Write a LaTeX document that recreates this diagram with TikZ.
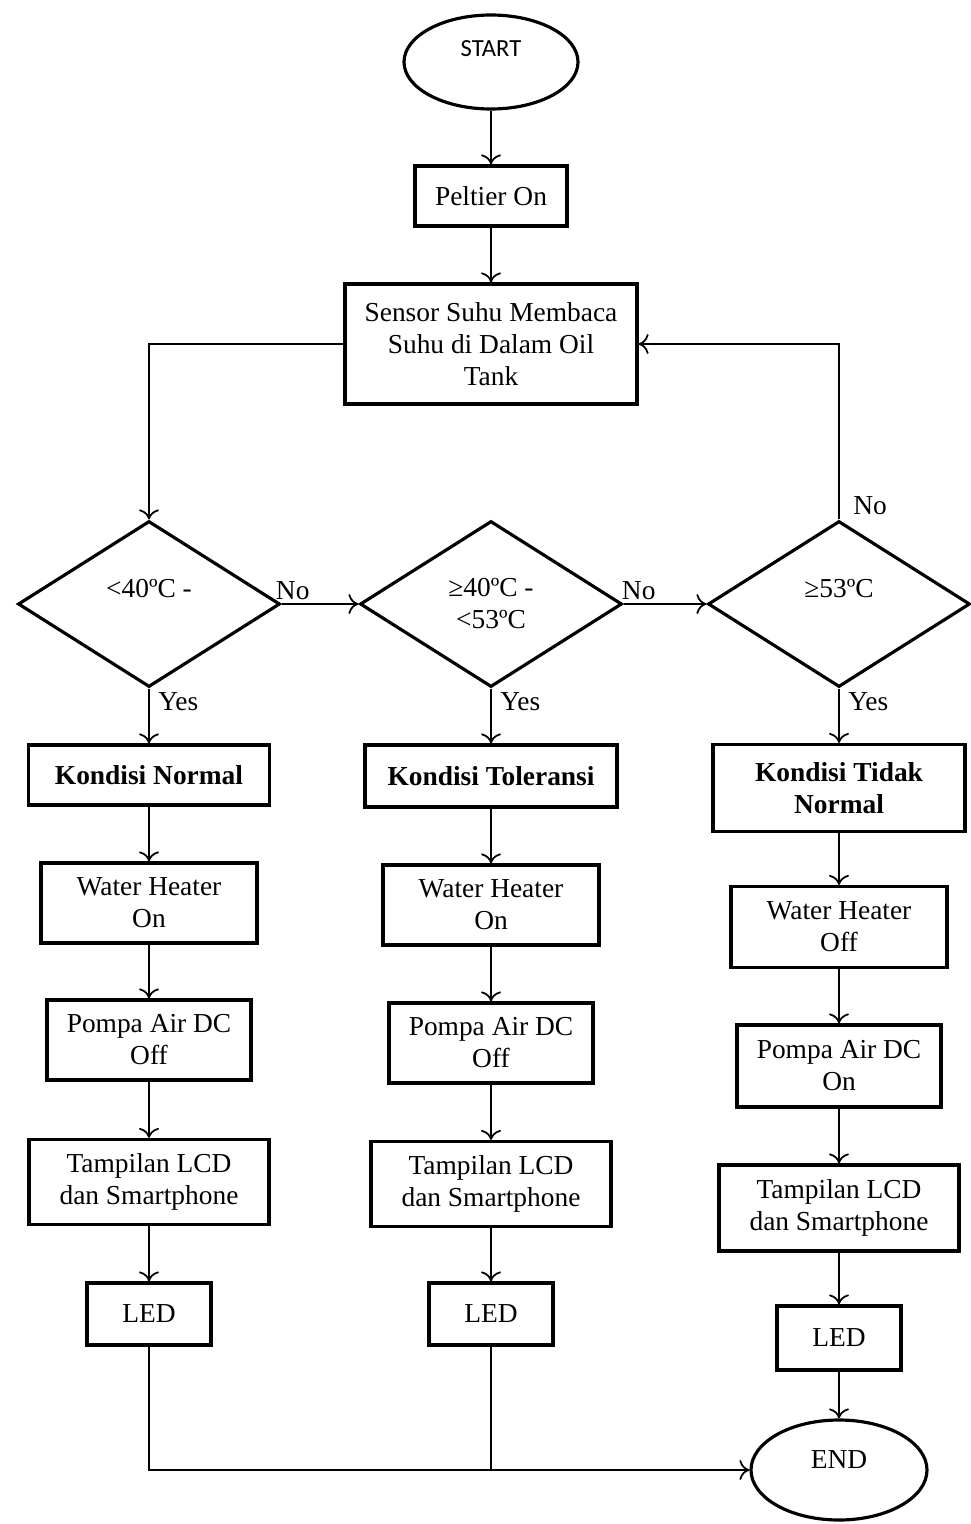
\documentclass[tikz,border=0pt]{standalone}
\usepackage{fontspec}
\setmainfont{Liberation Serif}
\setsansfont{Carlito}
\usetikzlibrary{arrows.meta,shapes.geometric}
\tikzset{
	box/.style 2 args={draw, line width=0.9pt, align=center, inner sep=1pt, minimum width=#1cm, minimum height=#2cm},
	cond/.style={draw, diamond, aspect=1.6, line width=0.9pt, align=center, inner sep=1pt, minimum width=2.62cm, minimum height=1.66cm},
	term/.style={draw, ellipse, line width=0.9pt, inner sep=0pt},
	link/.style={line width=0.5pt},
	arr/.style={link, -{To[length=1mm,width=2mm]}},
	tag/.style={inner sep=1pt}
}

\begin{document}
\begin{tikzpicture}[font=\fontsize{7.8}{9.1}\selectfont]
			%%%%% START %%%%%
			\useasboundingbox (0,0) rectangle (9.71,-15.24);
			
			\node[term, minimum width=1.74cm, minimum height=0.94cm, text depth=0.26cm, font=\sffamily\fontsize{7}{8}\selectfont] (start) at (4.91,-0.62) {START};
			\node[box={1.52}{0.60}] (peltier) at (4.91,-1.96) {Peltier On};
			\node[box={2.92}{1.20}] (sensor) at (4.91,-3.44) {Sensor Suhu Membaca\\Suhu di Dalam Oil\\Tank};
			
			\node[cond] (d1) at (1.49,-6.04) {<40ºC -\\\mbox{}};
			\node[cond] (d2) at (4.91,-6.04) {≥40ºC -\\<53ºC};
			\node[cond] (d3) at (8.39,-6.04) {≥53ºC\\\mbox{}};
			
			\node[box={2.41}{0.60}] (kn1) at (1.49,-7.75) {\textbf{Kondisi Normal}};
			\node[box={2.16}{0.80}] (wh1) at (1.49,-9.03) {Water Heater\\On};
			\node[box={2.04}{0.80}] (pa1) at (1.49,-10.40) {Pompa Air DC\\Off};
			\node[box={2.40}{0.85}] (tl1) at (1.49,-11.82) {Tampilan LCD\\dan Smartphone};
			\node[box={1.24}{0.62}] (led1) at (1.49,-13.14) {LED};
			
			\node[box={2.52}{0.62}] (kn2) at (4.91,-7.76) {\textbf{Kondisi Toleransi}};
			\node[box={2.16}{0.80}] (wh2) at (4.91,-9.05) {Water Heater\\On};
			\node[box={2.04}{0.80}] (pa2) at (4.91,-10.43) {Pompa Air DC\\Off};
			\node[box={2.40}{0.85}] (tl2) at (4.91,-11.84) {Tampilan LCD\\dan Smartphone};
			\node[box={1.24}{0.62}] (led2) at (4.91,-13.14) {LED};
			
			\node[box={2.52}{0.87}] (kn3) at (8.39,-7.88) {\textbf{Kondisi Tidak}\\\textbf{Normal}};
			\node[box={2.16}{0.81}] (wh3) at (8.39,-9.27) {Water Heater\\Off};
			\node[box={2.04}{0.82}] (pa3) at (8.39,-10.66) {Pompa Air DC\\On};
			\node[box={2.40}{0.86}] (tl3) at (8.39,-12.08) {Tampilan LCD\\dan Smartphone};
			\node[box={1.24}{0.64}] (led3) at (8.39,-13.38) {LED};
			
			\node[term, minimum width=1.76cm, minimum height=1.00cm, text depth=0.2cm] (end) at (8.39,-14.70) {END};
			
			% top
			\draw[arr] (start) -- (peltier);
			\draw[arr] (peltier) -- (sensor);
			\draw[arr] (sensor.west) -| (d1.north);
			
			% decisions
			\draw[arr] (d1.east) -- (d2.west) node[tag, pos=0, anchor=south west, xshift=-1mm] (no1) {No};
			\draw[arr] (d2.east) -- (d3.west) node[tag, pos=0, anchor=south west, xshift=-0.6mm] (no2) {No};
			\draw[arr] (d3.north) |- (sensor.east) node[tag, pos=0, anchor=south west, xshift=1mm] (no3) {No};
			\draw[arr] (d1.south) -- (kn1) node[tag, pos=0, anchor=north west, xshift=0.5mm] (yes1) {Yes};
			\draw[arr] (d2.south) -- (kn2) node[tag, pos=0, anchor=north west, xshift=0.5mm] (yes2) {Yes};
			\draw[arr] (d3.south) -- (kn3) node[tag, pos=0, anchor=north west, xshift=0.5mm] (yes3) {Yes};
			
			% columns
			\draw[arr] (kn1) -- (wh1);
			\draw[arr] (wh1) -- (pa1);
			\draw[arr] (pa1) -- (tl1);
			\draw[arr] (tl1) -- (led1);
			
			\draw[arr] (kn2) -- (wh2);
			\draw[arr] (wh2) -- (pa2);
			\draw[arr] (pa2) -- (tl2);
			\draw[arr] (tl2) -- (led2);
			
			\draw[arr] (kn3) -- (wh3);
			\draw[arr] (wh3) -- (pa3);
			\draw[arr] (pa3) -- (tl3);
			\draw[arr] (tl3) -- (led3);
			
			% bottom
			\draw[arr] (led1.south) |- (end.west);
			\draw[link] (led2.south) -- (led2.south |- end.west);
			\draw[arr] (led3) -- (end);
			
			%%%%% END %%%%%
\end{tikzpicture}
\end{document}
